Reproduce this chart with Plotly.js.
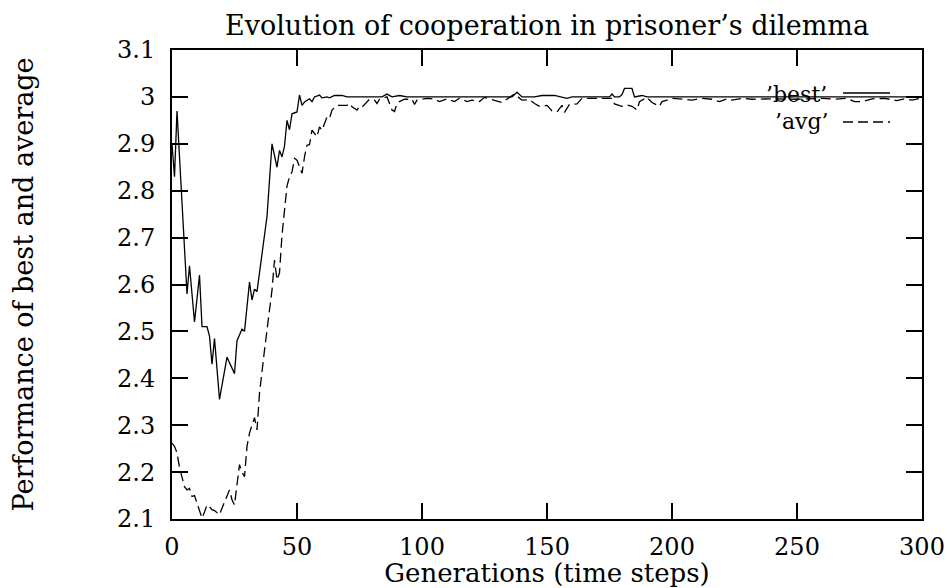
<!DOCTYPE html>
<html>
<head>
<meta charset="utf-8">
<script src="https://cdn.plot.ly/plotly-3.0.1.min.js"></script>
<style>
  html, body { margin: 0; padding: 0; background: #fff; }
  #chart { width: 947px; height: 588px; }
</style>
</head>
<body>
<div id="chart"></div>
<script>
// Best individual's score per generation
const bestGen = [0, 1, 2, 6, 7, 9, 11, 12, 14, 15, 16, 17, 19, 22, 25, 26, 28, 29, 31, 32, 33, 34,
  38, 40, 42, 43, 44, 45, 46, 47, 48, 50, 51, 52, 53, 55, 56, 57, 59, 60, 62, 63, 65, 68, 70,
  75, 80, 84, 86, 88, 91, 94, 100, 110, 120, 130, 136, 138, 140, 145, 148, 153, 156, 158, 160,
  165, 170, 175, 176, 177, 179, 180, 181, 184, 185, 188, 190, 192, 200, 210, 220, 240, 260, 280, 300];
const bestVal = [2.90, 2.83, 2.97, 2.58, 2.64, 2.52, 2.62, 2.51, 2.51, 2.49, 2.43, 2.485, 2.355, 2.445,
  2.41, 2.48, 2.505, 2.50, 2.605, 2.567, 2.59, 2.585, 2.745, 2.90, 2.85, 2.886, 2.872, 2.895, 2.95,
  2.93, 2.964, 2.968, 3.004, 2.982, 2.989, 2.996, 2.99, 3.0, 3.004, 2.998, 3.0, 2.998, 3.003, 3.003,
  3.0, 3.0, 3.0, 3.0, 3.006, 3.0, 3.003, 3.0, 3.0, 3.0, 3.0, 3.0, 3.0, 3.01, 3.0, 3.0, 3.003,
  3.003, 3.0, 2.997, 3.0, 3.0, 3.0, 3.0, 3.006, 3.0, 3.0, 3.005, 3.018, 3.018, 3.0, 3.003, 3.0,
  3.0, 3.0, 3.0, 3.0, 3.0, 3.0, 3.0, 3.0];

// Population average score per generation
const avgGen = [0, 1, 2, 3, 5, 6, 7, 8, 9, 10, 12, 13, 14, 15, 16, 17, 19, 20, 21, 23, 24, 25, 26,
  27, 28, 29, 30, 31, 32, 33, 34, 35, 37, 39, 40, 41, 42, 43, 44, 46, 47, 48, 49, 50, 52, 53, 54,
  55, 56, 58, 59, 60, 62, 63, 64, 66, 70, 71, 72, 74, 75, 76, 78, 79, 81, 82, 83, 86, 88, 89, 90,
  91, 93, 96, 97, 98, 100, 102, 105, 107, 110, 113, 115, 118, 120, 123, 125, 130, 132, 135, 137,
  140, 143, 145, 147, 150, 152, 154, 156, 157, 159, 162, 164, 170, 176, 177, 180, 182, 184, 186,
  187, 190, 192, 195, 196, 198, 200, 205, 208, 212, 216, 219, 222, 224, 228, 232, 240, 250, 260,
  265, 270, 273, 276, 280, 285, 290, 293, 296, 300];
const avgVal = [2.262, 2.255, 2.241, 2.21, 2.169, 2.162, 2.165, 2.148, 2.15, 2.134, 2.102, 2.115,
  2.13, 2.126, 2.12, 2.118, 2.109, 2.123, 2.135, 2.162, 2.141, 2.13, 2.173, 2.216, 2.20, 2.19,
  2.255, 2.283, 2.30, 2.316, 2.29, 2.368, 2.46, 2.539, 2.588, 2.652, 2.61, 2.625, 2.705, 2.81,
  2.83, 2.84, 2.869, 2.865, 2.837, 2.872, 2.897, 2.898, 2.929, 2.915, 2.936, 2.929, 2.957, 2.954,
  2.972, 2.982, 2.982, 2.986, 2.979, 2.972, 2.98, 2.978, 2.99, 2.995, 2.993, 2.986, 2.995, 3.0,
  2.972, 2.969, 2.986, 2.99, 2.995, 2.995, 2.984, 2.993, 2.995, 2.997, 2.995, 2.99, 2.996, 2.99,
  2.997, 2.99, 2.993, 2.99, 2.999, 2.99, 2.988, 2.999, 3.006, 2.993, 2.994, 2.986, 2.98, 2.982,
  2.97, 2.968, 2.982, 2.967, 2.984, 2.985, 2.997, 2.997, 2.997, 2.985, 2.98, 2.983, 2.98, 2.972,
  2.99, 2.999, 2.988, 2.98, 2.99, 2.993, 2.997, 2.995, 2.993, 2.997, 2.995, 2.99, 2.996, 2.993,
  2.997, 2.995, 2.996, 2.995, 2.997, 2.995, 2.997, 2.99, 2.99, 2.996, 2.997, 2.992, 2.996, 2.993,
  2.998];

const xTickVals = [0, 50, 100, 150, 200, 250, 300];
const xTickText = ["0", "50", "100", "150", "200", "250", "300"];
const yTickVals = [2.1, 2.2, 2.3, 2.4, 2.5, 2.6, 2.7, 2.8, 2.9, 3.0, 3.1];
const yTickText = ["2.1", "2.2", "2.3", "2.4", "2.5", "2.6", "2.7", "2.8", "2.9", "3", "3.1"];

const seriesNames = ["’best’", "’avg’"];

const FONT = "'DejaVu Serif', 'Liberation Serif', serif";

const traces = [
  {
    x: bestGen, y: bestVal, type: "scatter", mode: "lines", name: seriesNames[0],
    line: { color: "#000", width: 1.3 }, showlegend: false
  },
  {
    x: avgGen, y: avgVal, type: "scatter", mode: "lines", name: seriesNames[1],
    line: { color: "#000", width: 1.3, dash: "10px,5px" }, showlegend: false
  }
];

const axisCommon = {
  showline: true, linecolor: "#000", linewidth: 2, mirror: "ticks",
  ticks: "inside", ticklen: 16, tickwidth: 2, tickcolor: "#000",
  showgrid: false, zeroline: false,
  tickfont: { family: FONT, size: 24, color: "#000" }
};

const layout = {
  width: 947, height: 588,
  margin: { l: 172, r: 25, t: 50, b: 69 },
  paper_bgcolor: "#fff", plot_bgcolor: "#fff",
  font: { family: FONT, color: "#000" },
  title: {
    text: "Evolution of cooperation in prisoner’s dilemma",
    font: { family: FONT, size: 27, color: "#000" },
    x: 0.5, xref: "paper", y: 1 - 26 / 588, yref: "container", yanchor: "middle"
  },
  xaxis: Object.assign({}, axisCommon, {
    range: [0, 300], tickmode: "array", tickvals: xTickVals, ticktext: xTickText,
    ticklabelstandoff: 5,
    title: { text: "Generations (time steps)", font: { family: FONT, size: 26, color: "#000" }, standoff: 7 }
  }),
  yaxis: Object.assign({}, axisCommon, {
    range: [2.1, 3.1], tickmode: "array", tickvals: yTickVals, ticktext: yTickText,
    ticklabelstandoff: 10,
    title: { text: "Performance of best and average", font: { family: FONT, size: 27, color: "#000" }, standoff: 76 }
  }),
  annotations: [
    { text: seriesNames[0], xref: "paper", yref: "paper", x: (829 - 172) / 750, y: (519 - 95) / 469,
      xanchor: "right", yanchor: "middle", showarrow: false, font: { family: FONT, size: 22, color: "#000" } },
    { text: seriesNames[1], xref: "paper", yref: "paper", x: (831 - 172) / 750, y: (519 - 122) / 469,
      xanchor: "right", yanchor: "middle", showarrow: false, font: { family: FONT, size: 22, color: "#000" } }
  ],
  shapes: [
    { type: "line", xref: "paper", yref: "paper", x0: (843 - 172) / 750, x1: (890 - 172) / 750,
      y0: (519 - 93) / 469, y1: (519 - 93) / 469, line: { color: "#000", width: 1.3 } },
    { type: "line", xref: "paper", yref: "paper", x0: (843 - 172) / 750, x1: (890 - 172) / 750,
      y0: (519 - 122) / 469, y1: (519 - 122) / 469, line: { color: "#000", width: 1.3, dash: "10px,5px" } }
  ]
};

Plotly.newPlot("chart", traces, layout, { displayModeBar: false, staticPlot: true });
</script>
</body>
</html>
